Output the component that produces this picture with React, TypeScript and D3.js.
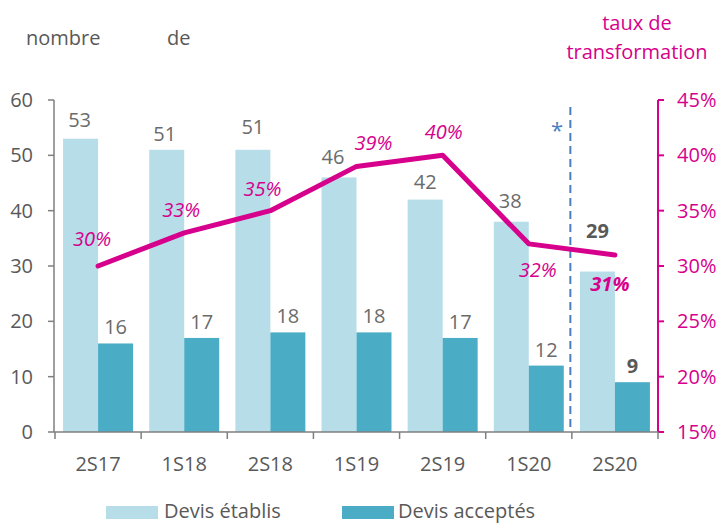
import React from "react";
import * as d3 from "d3";

const categories = ["2S17", "1S18", "2S18", "1S19", "2S19", "1S20", "2S20"];
const devisEtablis = [53, 51, 51, 46, 42, 38, 29];
const devisAcceptes = [16, 17, 18, 18, 17, 12, 9];
const tauxTransformation = [30, 33, 35, 39, 40, 32, 31];
const leftTicks = [0, 10, 20, 30, 40, 50, 60];
const rightTicks = [15, 20, 25, 30, 35, 40, 45];
// label placement (dx, dy relative to the line point)
const rateLabelOffsets: [number, number][] = [
  [-6, -20], [-3, -16], [-8, -15], [17, -16], [1, -16], [9, 33], [-5, 36],
];
const etablisLabelDx = [-1, -2, 0, -6, 0, -1, 0];
const etablisLabelDy = [-12, -9, -16, -13, -11, -14, -34];

const W = 723;
const H = 523;
const X0 = 55;
const X1 = 658;
const Y0 = 100;
const YB = 432;

const LIGHT = "#B7DDE8";
const DARK = "#4BACC6";
const MAG = "#D6008C";
const GRAY = "#595959";
const LABEL = "#6B6B6B";
const AXIS = "#7F7F7F";
const BLUE = "#4A7EC2";
const FONT = "'Open Sans', 'Noto Sans', sans-serif";

export default function App() {
  const x = d3.scaleBand<string>().domain(categories).range([X0, X1]).padding(0);
  const y = d3.scaleLinear().domain([0, 60]).range([YB, Y0]);
  const yr = d3.scaleLinear().domain([15, 45]).range([YB, Y0]);
  const bw = 35;
  const cx = (c: string) => (x(c) as number) + x.bandwidth() / 2;
  const line = d3
    .line<number>()
    .x((_, i) => cx(categories[i]))
    .y((d) => yr(d));
  const boundaries = categories.map((c) => x(c) as number).concat([X1]);
  const dashX = (x(categories[6]) as number) - 1.5;
  const lastIdx = categories.length - 1;

  return (
    <svg width={W} height={H} style={{ position: "absolute", left: 0, top: 0, background: "#fff" }} fontFamily={FONT}>
      {/* titles */}
      <text x={26} y={45} fontSize={20} fill={GRAY}>nombre</text>
      <text x={167} y={45} fontSize={20} fill={GRAY}>de</text>
      <text x={637} y={30} fontSize={20} fill={MAG} textAnchor="middle">taux de</text>
      <text x={637} y={59} fontSize={20} fill={MAG} textAnchor="middle">transformation</text>

      {/* bars */}
      {categories.map((c, i) => (
        <g key={c}>
          <rect x={cx(c) - bw} y={y(devisEtablis[i])} width={bw} height={YB - y(devisEtablis[i])} fill={LIGHT} />
          <rect x={cx(c)} y={y(devisAcceptes[i])} width={bw} height={YB - y(devisAcceptes[i])} fill={DARK} />
          <text
            x={cx(c) - bw / 2 + etablisLabelDx[i]}
            y={y(devisEtablis[i]) + etablisLabelDy[i]}
            fontSize={20}
            fill={i === lastIdx ? GRAY : LABEL}
            fontWeight={i === lastIdx ? "bold" : "normal"}
            textAnchor="middle"
          >
            {devisEtablis[i]}
          </text>
          <text
            x={cx(c) + bw / 2}
            y={y(devisAcceptes[i]) - 9}
            fontSize={20}
            fill={i === lastIdx ? GRAY : LABEL}
            fontWeight={i === lastIdx ? "bold" : "normal"}
            textAnchor="middle"
          >
            {devisAcceptes[i]}
          </text>
        </g>
      ))}

      {/* dashed separator */}
      <line x1={dashX} x2={dashX} y1={107} y2={YB} stroke={BLUE} strokeWidth={2} strokeDasharray="8,5" />
      <text x={557} y={138} fontSize={22} fill={BLUE} textAnchor="middle">*</text>

      {/* line */}
      <path d={line(tauxTransformation) || ""} fill="none" stroke={MAG} strokeWidth={5} strokeLinejoin="round" strokeLinecap="round" />
      {tauxTransformation.map((v, i) => (
        <text
          key={i}
          x={cx(categories[i]) + rateLabelOffsets[i][0]}
          y={yr(v) + rateLabelOffsets[i][1]}
          fontSize={20}
          fontStyle="italic"
          fontWeight={i === lastIdx ? "bold" : "normal"}
          fill={MAG}
          textAnchor="middle"
        >
          {v}%
        </text>
      ))}

      {/* left axis */}
      <line x1={X0 - 1} x2={X0 - 1} y1={Y0} y2={YB} stroke={AXIS} strokeWidth={1.5} />
      {leftTicks.map((t) => (
        <g key={t}>
          <line x1={X0 - 7} x2={X0 - 1} y1={y(t)} y2={y(t)} stroke={AXIS} strokeWidth={1.5} />
          <text x={33} y={y(t) + 7} fontSize={20} fill={GRAY} textAnchor="end">{t}</text>
        </g>
      ))}

      {/* right axis */}
      <line x1={X1} x2={X1} y1={Y0} y2={YB} stroke={MAG} strokeWidth={2} />
      {rightTicks.map((t) => (
        <g key={t}>
          <line x1={X1} x2={X1 + 6} y1={yr(t)} y2={yr(t)} stroke={MAG} strokeWidth={2} />
          <text x={677} y={yr(t) + 7} fontSize={20} fill={MAG}>{t}%</text>
        </g>
      ))}

      {/* bottom axis */}
      <line x1={X0 - 1} x2={X1} y1={YB} y2={YB} stroke={AXIS} strokeWidth={1.5} />
      {boundaries.map((b, i) => (
        <line key={i} x1={b} x2={b} y1={YB} y2={YB + 7} stroke={AXIS} strokeWidth={1.5} />
      ))}
      {categories.map((c) => (
        <text key={c} x={cx(c)} y={471} fontSize={20} fill={GRAY} textAnchor="middle">{c}</text>
      ))}

      {/* legend */}
      <rect x={106} y={506} width={52} height={13} fill={LIGHT} />
      <text x={164} y={518} fontSize={20} fill={GRAY}>Devis établis</text>
      <rect x={342} y={506} width={52} height={13} fill={DARK} />
      <text x={398} y={518} fontSize={20} fill={GRAY}>Devis acceptés</text>
    </svg>
  );
}
